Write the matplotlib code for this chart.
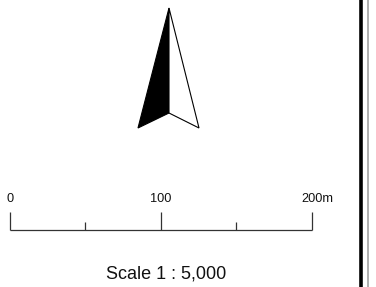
import matplotlib
matplotlib.use("Agg")
import matplotlib.pyplot as plt
from matplotlib.patches import Polygon

W, H = 376, 287
DPI = 100

# data
scale_ticks = [0, 50, 100, 150, 200]
major_ticks = [0, 100, 200]
tick_labels = ["0", "100", "200"]
unit = "m"
scale_text = "Scale 1 : 5,000"

plt.rcParams['font.family'] = ['Liberation Sans', 'DejaVu Sans']

fig = plt.figure(figsize=(W / DPI, H / DPI), dpi=DPI)
fig.patch.set_facecolor("white")

# base axes in pixel coordinates
ax = fig.add_axes([0, 0, 1, 1])
ax.set_xlim(0, W)
ax.set_ylim(H, 0)
ax.axis("off")

# north arrow
tip = (169, 8)
left = (138, 128)
right = (199, 128)
notch = (169, 113)
ax.add_patch(Polygon([tip, notch, left], closed=True, facecolor="black",
                     edgecolor="black", lw=0.8))
ax.add_patch(Polygon([tip, right, notch], closed=True, facecolor="white",
                     edgecolor="black", lw=0.8))

# right border lines
ax.plot([360.7, 360.7], [0, H], color="black", lw=2.6, solid_capstyle="butt")
ax.plot([367.8, 367.8], [0, H], color="#999999", lw=1.1, solid_capstyle="butt")

# scale bar axes: x in metres
x0, x1 = 9.8, 311.7
y_base, y_top = 230, 212
sa = fig.add_axes([x0 / W, 1 - y_base / H, (x1 - x0) / W, (y_base - y_top) / H])
sa.set_xlim(0, 200)
sa.set_ylim(0, 1)
sa.axis("off")
lc = "#333333"
sa.plot([scale_ticks[0], scale_ticks[-1]], [0, 0], color=lc, lw=0.9,
        clip_on=False, solid_capstyle="butt")
for t in scale_ticks:
    top = 1.0 if t in major_ticks else 0.45
    sa.plot([t, t], [0, top], color=lc, lw=0.9, clip_on=False,
            solid_capstyle="butt")
fs = 9.2
ylab = 1.58
for t, lab in zip(major_ticks[:-1], tick_labels[:-1]):
    sa.text(t, ylab, lab, ha="center", va="baseline", fontsize=fs,
            color="#111111", clip_on=False)
# last label with unit, number centred on its tick
half = 0.556 * len(tick_labels[-1]) / 2 * fs
sa.annotate(tick_labels[-1] + unit, xy=(major_ticks[-1], ylab),
            xytext=(-half, 0), textcoords="offset points", ha="left",
            va="baseline", fontsize=fs, color="#111111",
            annotation_clip=False)

ax.text(166.5, 278.5, scale_text, ha="center", va="baseline", fontsize=13,
        color="#111111")

fig.savefig("out.png", dpi=DPI, facecolor="white")
